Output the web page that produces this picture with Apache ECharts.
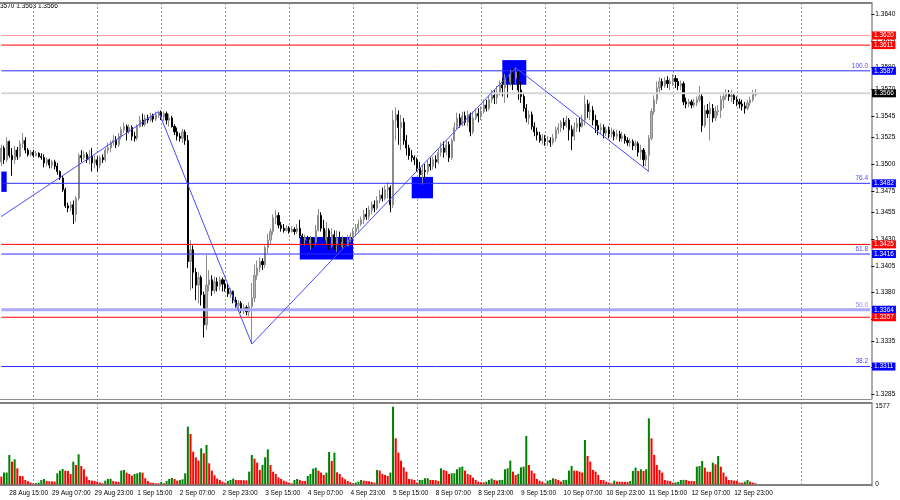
<!DOCTYPE html>
<html><head><meta charset="utf-8">
<script src="https://cdn.jsdelivr.net/npm/echarts@6/dist/echarts.min.js"></script>
<style>html,body{margin:0;padding:0;background:#fff}#c{width:900px;height:500px}</style>
</head><body><div id="c"></div><script>
// ---------- DATA ----------
const startTime = Date.UTC(2025, 7, 28, 12); // first hourly bar: 28 Aug 12:00
const slotCount = 327;                        // hourly slots shown on the time axis (incl. empty right margin)
const headerText = '3570 1.3563 1.3566';
// [open, close, low, high] per H1 bar
const candles = [
[1.3502,1.3515,1.3498,1.3518],[1.3515,1.3504,1.3500,1.3517],[1.3504,1.3521,1.3502,1.3525],[1.3521,1.3508,1.3506,1.3522],[1.3508,1.3504,1.3489,1.3515],[1.3504,1.3513,1.3500,1.3517],[1.3513,1.3507,1.3504,1.3516],[1.3507,1.3519,1.3506,1.3522],[1.3519,1.3522,1.3515,1.3529],[1.3522,1.3513,1.3510,1.3525],[1.3513,1.3509,1.3507,1.3515],[1.3509,1.3511,1.3507,1.3513],
[1.3511,1.3508,1.3506,1.3513],[1.3508,1.3510,1.3507,1.3512],[1.3510,1.3507,1.3506,1.3511],[1.3507,1.3506,1.3504,1.3510],[1.3506,1.3501,1.3497,1.3509],[1.3501,1.3504,1.3498,1.3506],[1.3504,1.3499,1.3496,1.3505],[1.3499,1.3502,1.3496,1.3504],[1.3502,1.3498,1.3495,1.3504],[1.3498,1.3493,1.3490,1.3501],[1.3493,1.3487,1.3485,1.3494],[1.3487,1.3476,1.3474,1.3489],[1.3476,1.3461,1.3459,1.3478],[1.3461,1.3459,1.3455,1.3464],[1.3459,1.3462,1.3456,1.3465],[1.3462,1.3453,1.3444,1.3466],[1.3453,1.3468,1.3446,1.3470],[1.3468,1.3508,1.3466,1.3510],[1.3508,1.3506,1.3502,1.3513],[1.3506,1.3509,1.3504,1.3512],[1.3509,1.3504,1.3501,1.3511],[1.3504,1.3507,1.3500,1.3513],[1.3507,1.3501,1.3493,1.3515],[1.3501,1.3504,1.3496,1.3508],
[1.3504,1.3499,1.3493,1.3507],[1.3499,1.3506,1.3496,1.3508],[1.3506,1.3504,1.3501,1.3509],[1.3504,1.3513,1.3502,1.3515],[1.3513,1.3515,1.3510,1.3520],[1.3515,1.3520,1.3511,1.3522],[1.3520,1.3522,1.3517,1.3527],[1.3522,1.3518,1.3515,1.3526],[1.3518,1.3526,1.3516,1.3529],[1.3526,1.3532,1.3523,1.3535],[1.3532,1.3535,1.3529,1.3539],[1.3535,1.3530,1.3522,1.3537],[1.3530,1.3534,1.3528,1.3537],[1.3534,1.3526,1.3522,1.3536],[1.3526,1.3524,1.3521,1.3530],[1.3524,1.3535,1.3522,1.3537],[1.3535,1.3541,1.3534,1.3545],[1.3541,1.3537,1.3535,1.3547],[1.3537,1.3543,1.3535,1.3546],[1.3543,1.3541,1.3538,1.3546],[1.3541,1.3545,1.3539,1.3548],[1.3545,1.3542,1.3539,1.3547],[1.3542,1.3546,1.3540,1.3549],[1.3546,1.3548,1.3543,1.3549],
[1.3548,1.3544,1.3541,1.3550],[1.3544,1.3547,1.3540,1.3549],[1.3547,1.3541,1.3537,1.3549],[1.3541,1.3543,1.3535,1.3547],[1.3543,1.3535,1.3534,1.3545],[1.3535,1.3530,1.3527,1.3537],[1.3530,1.3526,1.3522,1.3534],[1.3526,1.3524,1.3521,1.3529],[1.3524,1.3530,1.3520,1.3533],[1.3530,1.3522,1.3518,1.3532],[1.3522,1.3409,1.3403,1.3527],[1.3409,1.3420,1.3382,1.3429],[1.3420,1.3399,1.3384,1.3424],[1.3399,1.3387,1.3373,1.3403],[1.3387,1.3394,1.3370,1.3399],[1.3394,1.3378,1.3368,1.3396],[1.3378,1.3350,1.3338,1.3381],[1.3350,1.3387,1.3345,1.3415],[1.3387,1.3392,1.3381,1.3401],[1.3392,1.3382,1.3377,1.3396],[1.3382,1.3390,1.3379,1.3395],[1.3390,1.3386,1.3381,1.3394],[1.3386,1.3392,1.3382,1.3395],[1.3392,1.3388,1.3381,1.3394],
[1.3388,1.3384,1.3381,1.3392],[1.3384,1.3379,1.3376,1.3388],[1.3379,1.3381,1.3375,1.3384],[1.3381,1.3373,1.3370,1.3382],[1.3373,1.3368,1.3366,1.3376],[1.3368,1.3370,1.3365,1.3373],[1.3370,1.3364,1.3361,1.3372],[1.3364,1.3366,1.3360,1.3369],[1.3366,1.3362,1.3359,1.3368],[1.3362,1.3367,1.3358,1.3371],[1.3367,1.3375,1.3332,1.3389],[1.3375,1.3396,1.3371,1.3406],[1.3396,1.3403,1.3392,1.3410],[1.3403,1.3409,1.3399,1.3413],[1.3409,1.3406,1.3401,1.3412],[1.3406,1.3422,1.3403,1.3424],[1.3422,1.3429,1.3417,1.3435],[1.3429,1.3437,1.3425,1.3440],[1.3437,1.3450,1.3434,1.3453],[1.3450,1.3452,1.3444,1.3457],[1.3452,1.3443,1.3440,1.3455],[1.3443,1.3440,1.3437,1.3446],[1.3440,1.3438,1.3436,1.3444],[1.3438,1.3440,1.3437,1.3443],
[1.3440,1.3437,1.3435,1.3442],[1.3437,1.3439,1.3436,1.3442],[1.3439,1.3437,1.3434,1.3441],[1.3437,1.3440,1.3435,1.3444],[1.3440,1.3433,1.3431,1.3448],[1.3433,1.3429,1.3425,1.3435],[1.3429,1.3431,1.3424,1.3434],[1.3431,1.3426,1.3423,1.3433],[1.3426,1.3429,1.3420,1.3433],[1.3429,1.3427,1.3422,1.3431],[1.3427,1.3438,1.3424,1.3443],[1.3438,1.3452,1.3437,1.3458],[1.3452,1.3440,1.3437,1.3455],[1.3440,1.3429,1.3426,1.3448],[1.3429,1.3438,1.3425,1.3446],[1.3438,1.3424,1.3420,1.3440],[1.3424,1.3434,1.3422,1.3440],[1.3434,1.3425,1.3420,1.3438],[1.3425,1.3431,1.3418,1.3438],[1.3431,1.3423,1.3420,1.3437],[1.3423,1.3427,1.3421,1.3433],[1.3427,1.3424,1.3422,1.3431],[1.3424,1.3429,1.3423,1.3434],[1.3429,1.3433,1.3427,1.3436],
[1.3433,1.3437,1.3431,1.3440],[1.3437,1.3440,1.3433,1.3444],[1.3440,1.3444,1.3437,1.3448],[1.3444,1.3448,1.3442,1.3451],[1.3448,1.3453,1.3444,1.3457],[1.3453,1.3451,1.3448,1.3459],[1.3451,1.3457,1.3448,1.3461],[1.3457,1.3462,1.3453,1.3465],[1.3462,1.3459,1.3455,1.3466],[1.3459,1.3466,1.3457,1.3470],[1.3466,1.3471,1.3463,1.3476],[1.3471,1.3468,1.3465,1.3478],[1.3468,1.3476,1.3466,1.3480],[1.3476,1.3478,1.3468,1.3483],[1.3478,1.3462,1.3455,1.3480],[1.3462,1.3541,1.3459,1.3550],[1.3541,1.3546,1.3522,1.3553],[1.3546,1.3534,1.3518,1.3550],[1.3534,1.3539,1.3513,1.3546],[1.3539,1.3522,1.3518,1.3543],[1.3522,1.3515,1.3508,1.3527],[1.3515,1.3508,1.3504,1.3518],[1.3508,1.3506,1.3502,1.3513],[1.3506,1.3504,1.3499,1.3508],
[1.3504,1.3496,1.3493,1.3506],[1.3496,1.3490,1.3483,1.3502],[1.3490,1.3494,1.3481,1.3499],[1.3494,1.3493,1.3487,1.3500],[1.3493,1.3500,1.3490,1.3504],[1.3500,1.3498,1.3494,1.3506],[1.3498,1.3504,1.3495,1.3507],[1.3504,1.3502,1.3496,1.3508],[1.3502,1.3511,1.3500,1.3515],[1.3511,1.3515,1.3507,1.3520],[1.3515,1.3511,1.3506,1.3521],[1.3511,1.3518,1.3508,1.3522],[1.3518,1.3506,1.3502,1.3521],[1.3506,1.3522,1.3504,1.3524],[1.3522,1.3534,1.3521,1.3539],[1.3534,1.3543,1.3532,1.3548],[1.3543,1.3537,1.3534,1.3547],[1.3537,1.3545,1.3535,1.3549],[1.3545,1.3539,1.3536,1.3549],[1.3539,1.3546,1.3535,1.3550],[1.3546,1.3530,1.3526,1.3548],[1.3530,1.3543,1.3528,1.3549],[1.3543,1.3547,1.3541,1.3552],[1.3547,1.3545,1.3539,1.3552],
[1.3545,1.3549,1.3541,1.3554],[1.3549,1.3555,1.3547,1.3560],[1.3555,1.3552,1.3549,1.3560],[1.3552,1.3560,1.3550,1.3564],[1.3560,1.3564,1.3557,1.3569],[1.3564,1.3562,1.3556,1.3569],[1.3562,1.3567,1.3556,1.3573],[1.3567,1.3574,1.3564,1.3578],[1.3574,1.3571,1.3563,1.3580],[1.3571,1.3580,1.3557,1.3584],[1.3580,1.3577,1.3562,1.3585],[1.3577,1.3584,1.3573,1.3588],[1.3584,1.3580,1.3569,1.3589],[1.3580,1.3586,1.3575,1.3590],[1.3586,1.3569,1.3560,1.3588],[1.3569,1.3563,1.3557,1.3577],[1.3563,1.3552,1.3549,1.3567],[1.3552,1.3543,1.3539,1.3556],[1.3543,1.3546,1.3537,1.3550],[1.3546,1.3535,1.3532,1.3549],[1.3535,1.3530,1.3526,1.3539],[1.3530,1.3527,1.3522,1.3534],[1.3527,1.3522,1.3520,1.3530],[1.3522,1.3524,1.3518,1.3528],
[1.3524,1.3521,1.3517,1.3527],[1.3521,1.3522,1.3517,1.3526],[1.3522,1.3520,1.3516,1.3525],[1.3520,1.3524,1.3518,1.3528],[1.3524,1.3532,1.3521,1.3535],[1.3532,1.3534,1.3528,1.3538],[1.3534,1.3539,1.3530,1.3541],[1.3539,1.3536,1.3532,1.3543],[1.3536,1.3541,1.3534,1.3545],[1.3541,1.3532,1.3522,1.3543],[1.3532,1.3526,1.3513,1.3536],[1.3526,1.3534,1.3522,1.3539],[1.3534,1.3538,1.3530,1.3543],[1.3538,1.3535,1.3530,1.3543],[1.3535,1.3541,1.3534,1.3546],[1.3541,1.3556,1.3536,1.3564],[1.3556,1.3549,1.3543,1.3560],[1.3549,1.3550,1.3541,1.3558],[1.3550,1.3541,1.3536,1.3554],[1.3541,1.3536,1.3529,1.3546],[1.3536,1.3532,1.3527,1.3541],[1.3532,1.3534,1.3528,1.3538],[1.3534,1.3529,1.3524,1.3537],[1.3529,1.3532,1.3526,1.3535],
[1.3532,1.3528,1.3524,1.3535],[1.3528,1.3530,1.3525,1.3534],[1.3530,1.3526,1.3522,1.3532],[1.3526,1.3528,1.3523,1.3532],[1.3528,1.3524,1.3521,1.3531],[1.3524,1.3526,1.3521,1.3530],[1.3526,1.3522,1.3519,1.3528],[1.3522,1.3520,1.3517,1.3525],[1.3520,1.3521,1.3516,1.3524],[1.3521,1.3517,1.3513,1.3523],[1.3517,1.3519,1.3513,1.3522],[1.3519,1.3511,1.3507,1.3521],[1.3511,1.3513,1.3504,1.3518],[1.3513,1.3504,1.3498,1.3515],[1.3504,1.3508,1.3498,1.3511],[1.3508,1.3524,1.3493,1.3527],[1.3524,1.3549,1.3522,1.3552],[1.3549,1.3560,1.3546,1.3564],[1.3560,1.3571,1.3556,1.3577],[1.3571,1.3577,1.3567,1.3581],[1.3577,1.3573,1.3569,1.3580],[1.3573,1.3578,1.3571,1.3581],[1.3578,1.3575,1.3571,1.3582],[1.3575,1.3577,1.3569,1.3580],
[1.3577,1.3580,1.3573,1.3584],[1.3580,1.3577,1.3571,1.3583],[1.3577,1.3573,1.3569,1.3580],[1.3573,1.3575,1.3569,1.3578],[1.3575,1.3558,1.3555,1.3577],[1.3558,1.3556,1.3552,1.3562],[1.3556,1.3558,1.3553,1.3561],[1.3558,1.3555,1.3552,1.3560],[1.3555,1.3557,1.3553,1.3561],[1.3557,1.3560,1.3554,1.3563],[1.3560,1.3563,1.3558,1.3573],[1.3563,1.3536,1.3530,1.3565],[1.3536,1.3550,1.3534,1.3555],[1.3550,1.3547,1.3543,1.3556],[1.3547,1.3552,1.3522,1.3558],[1.3552,1.3543,1.3539,1.3556],[1.3543,1.3549,1.3540,1.3554],[1.3549,1.3550,1.3545,1.3555],[1.3550,1.3560,1.3543,1.3564],[1.3560,1.3563,1.3552,1.3567],[1.3563,1.3566,1.3560,1.3570],[1.3566,1.3563,1.3559,1.3569],[1.3563,1.3564,1.3558,1.3569],[1.3564,1.3560,1.3556,1.3566],
[1.3560,1.3558,1.3554,1.3563],[1.3558,1.3556,1.3552,1.3561],[1.3556,1.3554,1.3550,1.3560],[1.3554,1.3552,1.3547,1.3558],[1.3552,1.3557,1.3550,1.3560],[1.3557,1.3560,1.3554,1.3563],[1.3560,1.3565,1.3558,1.3569],[1.3565,1.3566,1.3563,1.3570]
];
const volumes = [
156,237,240,596,460,508,325,169,165,88,61,34,
20,22,34,88,108,68,61,58,55,223,278,311,
278,271,210,460,393,609,372,305,156,88,74,68,
54,34,20,74,108,112,68,54,50,278,291,237,
210,176,210,223,244,237,122,68,34,30,20,18,
47,20,68,108,129,108,74,88,102,223,1171,1022,
663,548,481,731,630,799,427,278,183,115,88,54,
34,68,88,115,88,86,84,82,80,257,596,521,
440,291,393,548,711,393,257,210,142,108,74,54,
34,20,88,108,88,68,66,169,210,318,338,278,
237,190,237,657,474,643,244,210,142,102,68,41,
20,34,54,88,74,68,61,47,34,291,278,210,
190,169,237,1577,934,643,481,345,257,108,102,88,
34,88,90,122,124,88,86,84,68,325,291,271,
210,223,225,305,345,359,278,210,190,135,88,54,
41,38,54,88,115,88,74,88,90,305,325,481,
257,190,210,345,359,982,393,278,223,108,74,54,
20,74,88,122,108,88,54,88,90,278,372,278,
275,257,237,900,575,460,291,257,190,88,86,54,
34,20,74,54,52,50,48,46,68,271,338,271,
305,271,305,1340,934,596,393,291,237,88,74,68,
30,40,50,88,90,88,68,66,64,359,372,474,
338,257,255,440,406,575,359,237,156,88,86,74,
72,34,32,54,88,54,34,20
];
const priceTicks = [1.3640,1.3615,1.3590,1.3570,1.3545,1.3525,1.3500,1.3475,1.3455,1.3430,1.3405,1.3380,1.3355,1.3335,1.3310,1.3285];
const volumeTicks = [0, 1577];
const levelValues = [1.3620,1.3611,1.3587,1.3566,1.3482,1.3425,1.3416,1.3364,1.3357,1.3311];
const levelKinds  = ['redLight','red','blue','price','blue','red','blue','blueLight','red','blue'];
const fibLevels = [1.3587,1.3482,1.3416,1.3364,1.3311];
const fibTexts  = ['100.0','76.4','61.8','50.0','38.2'];
const zigzagBars   = [0, 59, 94, 193, 243];
const zigzagPrices = [1.3451, 1.3549, 1.3332, 1.3590, 1.3493];
const zoneStartBar = [0, 112, 154, 188];
const zoneEndBar   = [2, 132, 162, 197];
const zoneTop      = [1.3493, 1.3432, 1.3488, 1.3597];
const zoneBottom   = [1.3474, 1.3411, 1.3468, 1.3574];

// ---------- BUILD ----------
const MON = ['Jan','Feb','Mar','Apr','May','Jun','Jul','Aug','Sep','Oct','Nov','Dec'];
function buildCategories(){
  const out=[]; let t=startTime;
  while(out.length<slotCount){
    const d=new Date(t), wd=d.getUTCDay();
    if(wd!==0 && wd!==6){
      const hh=String(d.getUTCHours()).padStart(2,'0');
      out.push(d.getUTCDate()+' '+MON[d.getUTCMonth()]+' '+hh+':00');
    }
    t+=3600000;
  }
  return out;
}
const cats = buildCategories();
const FONT = '"Liberation Sans", Arial, sans-serif';
const FS = 6.5;
const isDayStart = (i, v) => typeof v === 'string' && v.endsWith(' 00:00') && i < 320;
const isLabelBar = (i) => i % 16 === 3 && i < candles.length;

const levelStyle = {
  red:      {line:'#ff0000', width:1, bg:'#ff0000', text:'#ff0000'},
  redLight: {line:'#ff9c9c', width:1, bg:'#ff0000', text:'#ff0000'},
  blue:     {line:'#2b2bff', width:1, bg:'#0000ff', text:'#4a4aff'},
  blueLight:{line:'#a9a9ff', width:3, bg:'#0000ff', text:'#8f8fff'},
  price:    {line:'#d6d6d6', width:2, bg:'#000000', text:'#000000'}
};
const lastCat = cats[cats.length - 1];
const levelSeries = levelValues.map((v,i)=>{
  const s = levelStyle[levelKinds[i]];
  const f = fibLevels.indexOf(v);
  const endPoint = {value:[lastCat, v]};
  if (f >= 0) endPoint.label = {show:true, position:'left', distance:2, offset:[0,-5], formatter:fibTexts[f],
      color:s.text, fontSize:FS, fontFamily:FONT};
  return {type:'line', name:'level'+i, xAxisIndex:0, yAxisIndex:0, silent:true,
    data:[[cats[0], v], endPoint],
    symbol:'circle', symbolSize:0, showSymbol:true, z:4,
    itemStyle:{color:s.line},
    label:{show:false},
    lineStyle:{color:s.line, width:s.width, type:'solid'},
    emphasis:{disabled:true},
    endLabel:{show:true, formatter:v.toFixed(4), color:'#fff', backgroundColor:s.bg, padding:[1,2,0,2],
      fontSize:FS, fontFamily:FONT, distance:2}
  };
});
const zones = zoneStartBar.map((s,i)=>[
  {xAxis:cats[s], yAxis:zoneTop[i]},
  {xAxis:cats[zoneEndBar[i]], yAxis:zoneBottom[i]}
]);
const volData = volumes.map((v,i)=>({value:v, itemStyle:{color:(i>0 && v>volumes[i-1]) ? '#008000' : '#ff0000'}}));
const zigData = zigzagBars.map((b,j)=>[cats[b], zigzagPrices[j]]);

const sepLine = {show:true, interval:isDayStart, alignWithLabel:true, lineStyle:{color:'#9a9a9a', type:[2,2], width:1}};
const plotLeft = -0.63, plotWidth = 872;

const option = {
  animation:false,
  backgroundColor:'#ffffff',
  textStyle:{fontFamily:FONT},
  graphic:[{type:'text', left:0, top:3, style:{text:headerText, fontSize:FS, fill:'#000', fontFamily:FONT}}],
  grid:[
    {left:plotLeft, width:plotWidth, top:3, height:396},
    {left:plotLeft, width:plotWidth, top:403, height:83}
  ],
  xAxis:[
    {type:'category', gridIndex:0, data:cats, boundaryGap:true, position:'top',
     axisLine:{show:true, lineStyle:{color:'#808080', width:2}}, axisTick:{show:false}, axisLabel:{show:false},
     splitLine:sepLine},
    {type:'category', gridIndex:0, data:cats, boundaryGap:true, position:'bottom',
     axisLine:{show:true, lineStyle:{color:'#909090', width:1}}, axisTick:{show:false}, axisLabel:{show:false}, splitLine:{show:false}},
    {type:'category', gridIndex:1, data:cats, boundaryGap:true, position:'bottom',
     axisLine:{show:true, lineStyle:{color:'#808080', width:2}}, axisTick:{show:false},
     axisLabel:{show:true, interval:isLabelBar, align:'left', fontSize:FS, color:'#000', margin:4, fontFamily:FONT},
     splitLine:sepLine},
    {type:'category', gridIndex:1, data:cats, boundaryGap:true, position:'top',
     axisLine:{show:true, lineStyle:{color:'#808080', width:2}}, axisTick:{show:false}, axisLabel:{show:false}, splitLine:{show:false}}
  ],
  yAxis:[
    {type:'value', gridIndex:0, position:'right', min:1.32807, max:1.36503,
     axisLine:{show:true, lineStyle:{color:'#909090', width:1.5}},
     axisTick:{show:true, customValues:priceTicks, length:3, lineStyle:{color:'#000'}},
     axisLabel:{show:true, customValues:priceTicks, formatter:v=>Number(v).toFixed(4), fontSize:FS, color:'#000', margin:4, fontFamily:FONT},
     splitLine:{show:false}},
    {type:'value', gridIndex:1, position:'right', min:-35, max:1652,
     axisLine:{show:true, lineStyle:{color:'#909090', width:1.5}},
     axisTick:{show:false},
     axisLabel:{show:true, customValues:volumeTicks, formatter:v=>String(v), fontSize:FS, color:'#000', margin:4, fontFamily:FONT},
     splitLine:{show:false}}
  ],
  series:[
    {type:'candlestick', name:'GBPUSD', xAxisIndex:0, yAxisIndex:0, data:candles, barWidth:1.6, z:3,
     itemStyle:{color:'#b4b4b4', color0:'#000000', borderColor:'#8c8c8c', borderColor0:'#000000', borderWidth:1},
     markArea:{silent:true, itemStyle:{color:'#0000ff', opacity:1}, data:zones}
    },
    {type:'line', name:'ZigZag', xAxisIndex:0, yAxisIndex:0, data:zigData, symbol:'none', silent:true, z:5,
     lineStyle:{color:'#4a4aff', width:1}},
    {type:'bar', name:'Volumes', xAxisIndex:2, yAxisIndex:1, data:volData, barWidth:2}
  ].concat(levelSeries)
};
const chart = echarts.init(document.getElementById('c'), null, {renderer:'canvas', width:900, height:500});
chart.setOption(option);
</script></body></html>
